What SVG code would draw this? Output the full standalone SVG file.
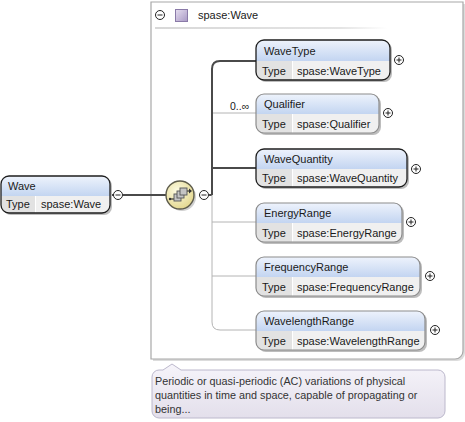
<svg xmlns="http://www.w3.org/2000/svg" width="465" height="422" viewBox="0 0 465 422">
<defs>
<linearGradient id="hdr" x1="0" y1="0" x2="0" y2="1"><stop offset="0" stop-color="#eef3fc"/><stop offset="1" stop-color="#c3d5f1"/></linearGradient>
<linearGradient id="tip" x1="0" y1="0" x2="0" y2="1"><stop offset="0" stop-color="#f6f4fa"/><stop offset="1" stop-color="#e3dfeb"/></linearGradient>
<linearGradient id="sq" x1="0" y1="0" x2="1" y2="1"><stop offset="0" stop-color="#e6def0"/><stop offset="1" stop-color="#a898c4"/></linearGradient>
<linearGradient id="sep" x1="0" y1="0" x2="1" y2="0"><stop offset="0" stop-color="#d8d8d8"/><stop offset="0.8" stop-color="#e4e4e4"/><stop offset="1" stop-color="#ffffff"/></linearGradient>
<radialGradient id="seq" cx="0.4" cy="0.35" r="0.7"><stop offset="0" stop-color="#fdfbe2"/><stop offset="1" stop-color="#e2d68c"/></radialGradient>
<style>
text{font-family:"Liberation Sans",Arial,sans-serif;font-size:11px;fill:#1a1a1a}
.tip{font-size:10.8px;fill:#333}
.body{fill:#f0f0f0}
.tcell{fill:#e2e2e2}
.hd{fill:url(#hdr)}
.req{fill:none;stroke:#1e1e1e;stroke-width:1.3}
.opt{fill:none;stroke:#8c8c8c;stroke-width:1.2}
.sh{fill:#bdbdbd}
.div{stroke:#ffffff;stroke-width:1}
.pm circle{fill:#fff;stroke:#222;stroke-width:1}
.pm path{stroke:#222;stroke-width:1;fill:none}
.thin{fill:none;stroke:#b4b4b4;stroke-width:1}
.bold{fill:none;stroke:#4a4a4a;stroke-width:2}
</style>
</defs>

<!-- container -->
<g id="container">
<path d="M153,4 H465 V353 A8,8 0 0 1 457,361 H153 Z" fill="#dcdcdc"/>
<path d="M151,2 H463 V351 A8,8 0 0 1 455,359 H151 Z" fill="#ffffff" stroke="#a8a8a8" stroke-width="1.2"/>
<rect x="155" y="27" width="232" height="2" fill="url(#sep)"/>
<g class="pm"><circle cx="160" cy="15" r="4.5"/><path d="M157.5,15 H162.5"/></g>
<rect x="175.5" y="9.5" width="12" height="12" fill="url(#sq)" stroke="#8a7aa8" stroke-width="1"/>
<text x="198" y="19">spase:Wave</text>
</g>

<!-- connectors -->
<g id="connectors">
<path class="bold" d="M110,195 H114"/>
<path class="bold" d="M123,195 H166"/>
<path class="bold" d="M209,195 H212"/>
<path class="thin" d="M212,195 V322 Q212,330 220,330 H256"/>
<path class="thin" d="M212,113 H256"/>
<path class="thin" d="M212,222 H256"/>
<path class="thin" d="M212,276 H256"/>
<path class="bold" d="M212,195 V69 Q212,61 220,61 H256"/>
<path class="bold" d="M212,168 H256"/>
<text x="230" y="110" style="font-size:10.5px">0..∞</text>
</g>

<!-- Wave -->
<g id="node-wave">
<rect class="sh" x="3" y="178" width="109" height="37" rx="8"/>
<rect class="body" x="1" y="176" width="109" height="37" rx="8"/>
<path class="hd" d="M1,196 V184 A8,8 0 0 1 9,176 H102 A8,8 0 0 1 110,184 V196 Z"/>
<path class="tcell" d="M1,196 H35 V213 H9 A8,8 0 0 1 1,205 Z"/>
<line class="div" x1="35.5" y1="196" x2="35.5" y2="213"/>
<rect class="req" x="1" y="176" width="109" height="37" rx="8"/>
<text x="8" y="190">Wave</text>
<text x="6" y="208">Type</text>
<text x="41" y="208">spase:Wave</text>
<g class="pm"><circle cx="118" cy="195" r="4.5"/><path d="M115.5,195 H120.5"/></g>
</g>

<!-- sequence -->
<g id="node-sequence">
<circle cx="182" cy="197" r="14" fill="#d0d0d0"/>
<circle cx="180" cy="195" r="14" fill="url(#seq)" stroke="#5e5c4c" stroke-width="1.4"/>
<path d="M170,199 H175" stroke="#333" stroke-width="1.2"/>
<circle cx="170" cy="199" r="1.2" fill="#333"/>
<path d="M185,191 H190" stroke="#333" stroke-width="1.2"/>
<path d="M189,188.5 L192,191 L189,193.5 Z" fill="#333"/>
<rect x="174" y="194" width="7" height="7" fill="#c4c4c4" stroke="#555" stroke-width="0.9"/>
<rect x="177" y="191" width="7" height="7" fill="#c4c4c4" stroke="#555" stroke-width="0.9"/>
<rect x="180" y="188" width="7" height="7" fill="#c4c4c4" stroke="#555" stroke-width="0.9"/>
<g class="pm"><circle cx="204" cy="195" r="4.5"/><path d="M201.5,195 H206.5"/></g>
</g>

<!-- WaveType -->
<g id="node-wavetype">
<rect class="sh" x="258" y="42" width="134" height="40" rx="8"/>
<rect class="body" x="256" y="40" width="134" height="40" rx="8"/>
<path class="hd" d="M256,61 V48 A8,8 0 0 1 264,40 H382 A8,8 0 0 1 390,48 V61 Z"/>
<path class="tcell" d="M256,61 H292 V80 H264 A8,8 0 0 1 256,72 Z"/>
<line class="div" x1="292.5" y1="61" x2="292.5" y2="80"/>
<rect class="req" x="256" y="40" width="134" height="40" rx="8"/>
<text x="264" y="55">WaveType</text>
<text x="262" y="75">Type</text>
<text x="297" y="75">spase:WaveType</text>
<g class="pm"><circle cx="399" cy="60" r="4.5"/><path d="M396.5,60 H401.5 M399,57.5 V62.5"/></g>
</g>

<!-- Qualifier -->
<g id="node-qualifier">
<rect class="sh" x="258" y="96" width="123" height="39" rx="8"/>
<rect class="body" x="256" y="94" width="123" height="39" rx="8"/>
<path class="hd" d="M256,114 V102 A8,8 0 0 1 264,94 H371 A8,8 0 0 1 379,102 V114 Z"/>
<path class="tcell" d="M256,114 H292 V133 H264 A8,8 0 0 1 256,125 Z"/>
<line class="div" x1="292.5" y1="114" x2="292.5" y2="133"/>
<rect class="opt" x="256" y="94" width="123" height="39" rx="8"/>
<text x="264" y="108">Qualifier</text>
<text x="262" y="128">Type</text>
<text x="297" y="128">spase:Qualifier</text>
<g class="pm"><circle cx="388" cy="113" r="4.5"/><path d="M385.5,113 H390.5 M388,110.5 V115.5"/></g>
</g>

<!-- WaveQuantity -->
<g id="node-wavequantity">
<rect class="sh" x="258" y="151" width="151" height="38" rx="8"/>
<rect class="body" x="256" y="149" width="151" height="38" rx="8"/>
<path class="hd" d="M256,169 V157 A8,8 0 0 1 264,149 H399 A8,8 0 0 1 407,157 V169 Z"/>
<path class="tcell" d="M256,169 H292 V187 H264 A8,8 0 0 1 256,179 Z"/>
<line class="div" x1="292.5" y1="169" x2="292.5" y2="187"/>
<rect class="req" x="256" y="149" width="151" height="38" rx="8"/>
<text x="264" y="163">WaveQuantity</text>
<text x="262" y="182">Type</text>
<text x="297" y="182">spase:WaveQuantity</text>
<g class="pm"><circle cx="416" cy="169" r="4.5"/><path d="M413.5,169 H418.5 M416,166.5 V171.5"/></g>
</g>

<!-- EnergyRange -->
<g id="node-energyrange">
<rect class="sh" x="258" y="205" width="146" height="39" rx="8"/>
<rect class="body" x="256" y="203" width="146" height="39" rx="8"/>
<path class="hd" d="M256,223 V211 A8,8 0 0 1 264,203 H394 A8,8 0 0 1 402,211 V223 Z"/>
<path class="tcell" d="M256,223 H292 V242 H264 A8,8 0 0 1 256,234 Z"/>
<line class="div" x1="292.5" y1="223" x2="292.5" y2="242"/>
<rect class="opt" x="256" y="203" width="146" height="39" rx="8"/>
<text x="264" y="217">EnergyRange</text>
<text x="262" y="237">Type</text>
<text x="297" y="237">spase:EnergyRange</text>
<g class="pm"><circle cx="411" cy="222" r="4.5"/><path d="M408.5,222 H413.5 M411,219.5 V224.5"/></g>
</g>

<!-- FrequencyRange -->
<g id="node-frequencyrange">
<rect class="sh" x="258" y="259" width="164" height="39" rx="8"/>
<rect class="body" x="256" y="257" width="164" height="39" rx="8"/>
<path class="hd" d="M256,277 V265 A8,8 0 0 1 264,257 H412 A8,8 0 0 1 420,265 V277 Z"/>
<path class="tcell" d="M256,277 H292 V296 H264 A8,8 0 0 1 256,288 Z"/>
<line class="div" x1="292.5" y1="277" x2="292.5" y2="296"/>
<rect class="opt" x="256" y="257" width="164" height="39" rx="8"/>
<text x="264" y="271">FrequencyRange</text>
<text x="262" y="291">Type</text>
<text x="297" y="291">spase:FrequencyRange</text>
<g class="pm"><circle cx="430" cy="276" r="4.5"/><path d="M427.5,276 H432.5 M430,273.5 V278.5"/></g>
</g>

<!-- WavelengthRange -->
<g id="node-wavelengthrange">
<rect class="sh" x="258" y="313" width="169" height="39" rx="8"/>
<rect class="body" x="256" y="311" width="169" height="39" rx="8"/>
<path class="hd" d="M256,331 V319 A8,8 0 0 1 264,311 H417 A8,8 0 0 1 425,319 V331 Z"/>
<path class="tcell" d="M256,331 H292 V350 H264 A8,8 0 0 1 256,342 Z"/>
<line class="div" x1="292.5" y1="331" x2="292.5" y2="350"/>
<rect class="opt" x="256" y="311" width="169" height="39" rx="8"/>
<text x="264" y="325">WavelengthRange</text>
<text x="262" y="345">Type</text>
<text x="297" y="345">spase:WavelengthRange</text>
<g class="pm"><circle cx="435" cy="330" r="4.5"/><path d="M432.5,330 H437.5 M435,327.5 V332.5"/></g>
</g>

<!-- tooltip -->
<g id="tooltip">
<path d="M159,370 H163 L172,364 L181,370 H438 A7,7 0 0 1 445,377 V411 A7,7 0 0 1 438,418 H159 A7,7 0 0 1 152,411 V377 A7,7 0 0 1 159,370 Z" fill="url(#tip)" stroke="#bcb8cc" stroke-width="1"/>
<text class="tip" x="155" y="385">Periodic or quasi-periodic (AC) variations of physical</text>
<text class="tip" x="155" y="399">quantities in time and space, capable of propagating or</text>
<text class="tip" x="155" y="413">being...</text>
</g>
</svg>
